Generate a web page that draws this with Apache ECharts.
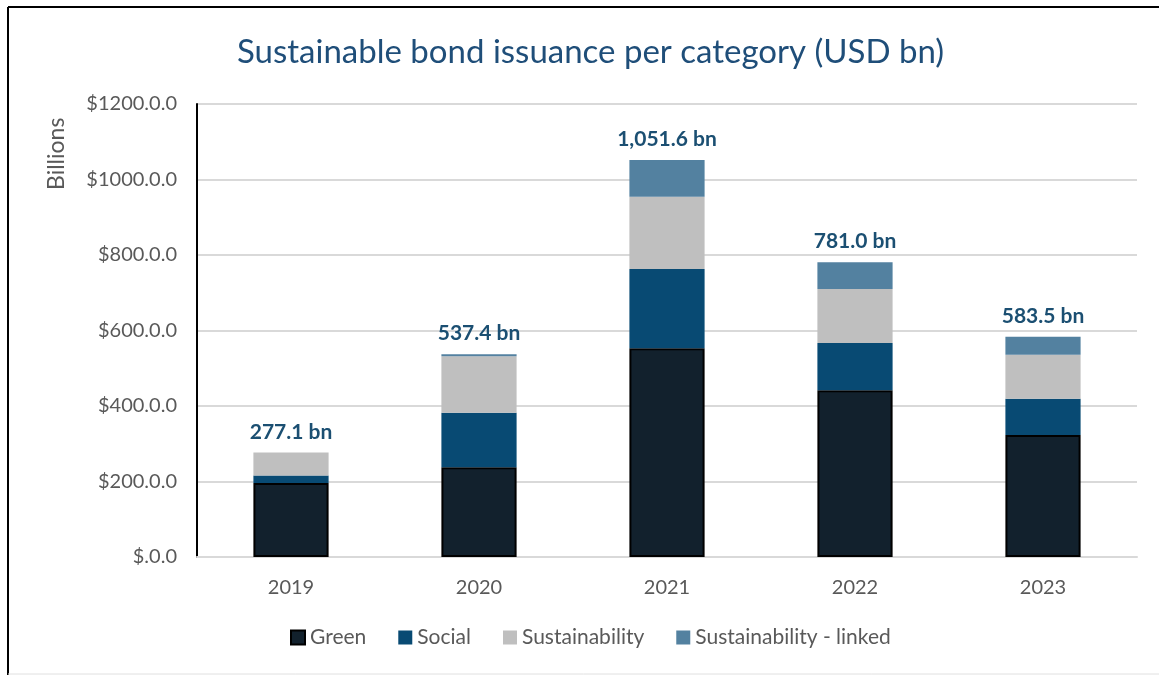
<!DOCTYPE html>
<html>
<head>
<meta charset="utf-8">
<script src="https://cdn.jsdelivr.net/npm/echarts@6/dist/echarts.min.js"></script>
<style>
  html, body { margin: 0; padding: 0; background: #ffffff; }
  #chart { width: 1159px; height: 675px; }
</style>
</head>
<body>
<div id="chart"></div>
<script>
// Issuance by year and category, USD billions
const years = ['2019', '2020', '2021', '2022', '2023'];
const green = [196.0, 238.0, 553.0, 442.0, 323.0];
const social = [20.0, 144.0, 210.0, 125.0, 96.0];
const sustainability = [61.1, 150.0, 191.0, 143.0, 117.0];
const sustainabilityLinked = [0.0, 5.4, 97.6, 71.0, 47.5];
const totals = [277.1, 537.4, 1051.6, 781.0, 583.5];
const totalLabels = ['277.1 bn', '537.4 bn', '1,051.6 bn', '781.0 bn', '583.5 bn'];

// Value-axis tick values and their printed labels
const yTicks = [0, 200, 400, 600, 800, 1000, 1200];
const yTickLabels = ['$.0.0', '$200.0.0', '$400.0.0', '$600.0.0', '$800.0.0', '$1000.0.0', '$1200.0.0'];

const FONT = 'Lato, "Open Sans", sans-serif';
const chart = echarts.init(document.getElementById('chart'));

function barSeries(name, data, color, extra) {
  return Object.assign({
    name: name,
    type: 'bar',
    stack: 'total',
    barWidth: '40%',
    data: data,
    itemStyle: { color: color },
    emphasis: { disabled: true }
  }, extra || {});
}

chart.setOption({
  animation: false,
  textStyle: { fontFamily: FONT },
  title: {
    text: 'Sustainable bond issuance per category (USD bn)',
    left: 232,
    top: 31,
    textStyle: { color: '#1f4e79', fontSize: 33, fontWeight: 'normal', fontFamily: FONT }
  },
  legend: {
    bottom: 22,
    left: 285,
    icon: 'rect',
    itemWidth: 14,
    itemHeight: 14,
    itemGap: 32,
    textStyle: { color: '#595959', fontSize: 21, fontFamily: FONT },
    data: ['Green', 'Social', 'Sustainability', 'Sustainability - linked']
  },
  grid: { left: 197, right: 22, top: 104, bottom: 118, containLabel: false },
  xAxis: {
    type: 'category',
    data: years,
    axisLine: { lineStyle: { color: '#d9d9d9', width: 2 } },
    axisTick: { show: false },
    axisLabel: { color: '#595959', fontSize: 20, margin: 21, fontFamily: FONT }
  },
  yAxis: {
    type: 'value',
    min: 0,
    max: 1200,
    interval: 200,
    axisLine: { show: true, lineStyle: { color: '#000000', width: 2 } },
    axisTick: { show: false },
    splitLine: { lineStyle: { color: '#d9d9d9', width: 2 } },
    axisLabel: {
      color: '#595959',
      fontSize: 20,
      margin: 20,
      fontFamily: FONT,
      formatter: function (v) {
        const i = yTicks.indexOf(v);
        return i >= 0 ? yTickLabels[i] : '';
      }
    }
  },
  graphic: [
    {
      type: 'text',
      x: 45,
      y: 190,
      rotation: Math.PI / 2,
      style: { text: 'Billions', fill: '#595959', fontSize: 23, fontFamily: FONT }
    },
    { type: 'line', shape: { x1: 8, y1: 7, x2: 1159, y2: 7 }, style: { stroke: '#000000', lineWidth: 2 } },
    { type: 'line', shape: { x1: 8, y1: 7, x2: 8, y2: 675 }, style: { stroke: '#000000', lineWidth: 2 } },
    { type: 'line', shape: { x1: 8, y1: 674, x2: 1159, y2: 674 }, style: { stroke: '#e0e0e0', lineWidth: 1 } }
  ],
  series: [
    barSeries('Green', green, '#12212d', { itemStyle: { color: '#12212d', borderColor: '#000000', borderWidth: 2 } }),
    barSeries('Social', social, '#084a73'),
    barSeries('Sustainability', sustainability, '#bfbfbf'),
    barSeries('Sustainability - linked', sustainabilityLinked, '#5381a0', {
      label: {
        show: true,
        position: 'top',
        distance: 10,
        color: '#1b4f72',
        fontSize: 21,
        fontWeight: 'bold',
        fontFamily: FONT,
        formatter: function (p) { return totalLabels[p.dataIndex]; }
      }
    })
  ]
});
</script>
</body>
</html>
